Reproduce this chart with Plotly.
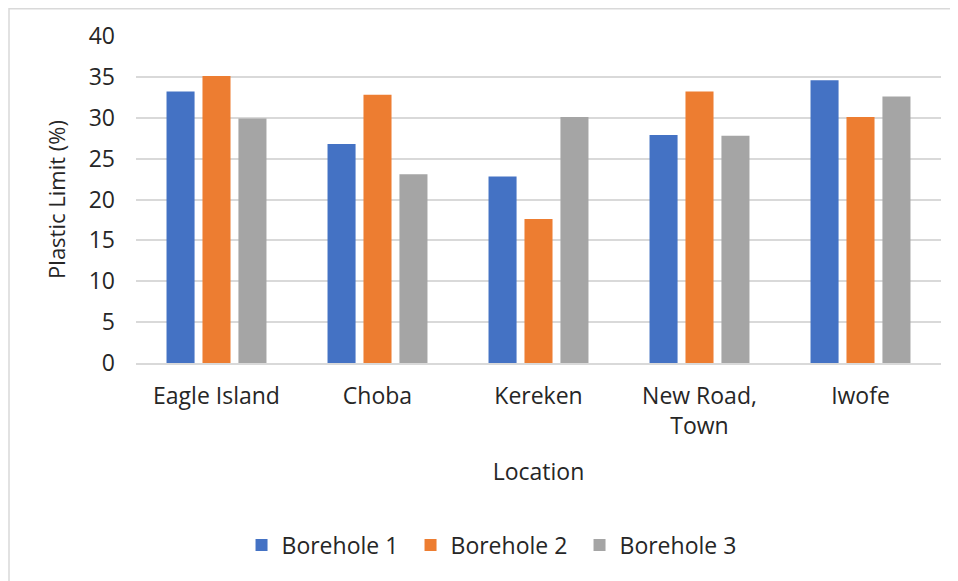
import plotly.graph_objects as go

locations = ["Eagle Island", "Choba", "Kereken", "New Road,<br>Town", "Iwofe"]
borehole1 = [33.2, 26.8, 22.8, 27.9, 34.6]
borehole2 = [35.1, 32.8, 17.6, 33.2, 30.1]
borehole3 = [29.9, 23.1, 30.1, 27.8, 32.6]
series_names = ["Borehole 1", "Borehole 2", "Borehole 3"]
colors = ["#4472C4", "#ED7D31", "#A5A5A5"]
y_ticks = [0, 5, 10, 15, 20, 25, 30, 35, 40]

FONT = "Open Sans"
TXT = "#262626"
W, H = 950, 573
L, R, T, B = 128, 17, 28, 218
PW = W - L - R
PH = H - T - B

fig = go.Figure()
for name, vals, col in zip(series_names, [borehole1, borehole2, borehole3], colors):
    fig.add_trace(go.Bar(x=locations, y=vals, name=name,
                         marker=dict(color=col, line=dict(width=0))))

fig.update_layout(
    width=W, height=H,
    margin=dict(l=L, r=R, t=T, b=B),
    paper_bgcolor="white", plot_bgcolor="white",
    barmode="group", bargap=0.33, bargroupgap=0.22,
    font=dict(family=FONT, size=23, color=TXT),
    legend=dict(orientation="h", x=0.446, xanchor="center", y=-0.557, yanchor="middle",
                font=dict(size=23, color=TXT), itemwidth=30, entrywidth=124,
                traceorder="normal"),
    showlegend=True,
)
fig.update_xaxes(
    showline=True, linecolor="#D9D9D9", linewidth=1.5,
    showgrid=False, ticks="", ticklabelstandoff=12,
    tickfont=dict(size=23, color=TXT),
    title=dict(text="Location", font=dict(size=23, color=TXT), standoff=24),
)
fig.update_yaxes(
    range=[0, 40], tickvals=y_ticks, showline=False,
    showgrid=True, gridcolor="#D9D9D9", gridwidth=1.5,
    zeroline=False, ticks="", ticklabelstandoff=20,
    tickfont=dict(size=23, color=TXT),
    title=dict(text="Plastic Limit (%)", font=dict(size=22, color=TXT), standoff=16),
)
fig.add_shape(type="rect", xref="paper", yref="paper",
              x0=(1 - L) / PW, x1=(W + 20 - L) / PW,
              y0=-(H + 20 - (T + PH)) / PH, y1=(T + PH - 0.75) / PH,
              line=dict(color="#D9D9D9", width=1.5), fillcolor="rgba(0,0,0,0)", layer="below")

fig.write_html("out.html")
